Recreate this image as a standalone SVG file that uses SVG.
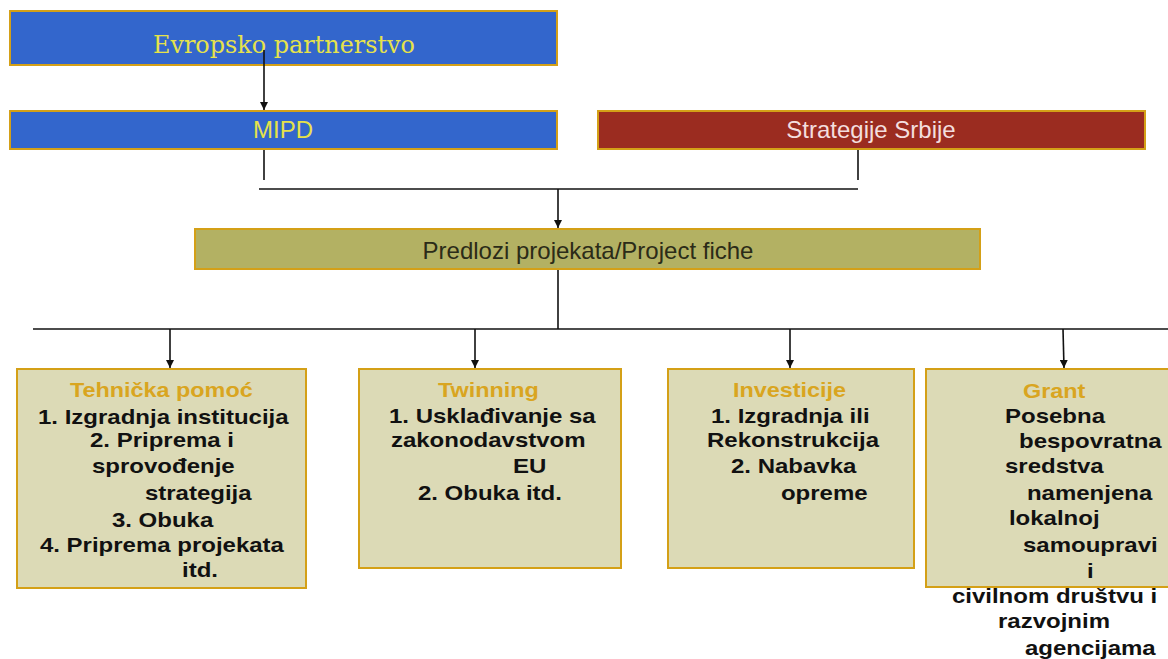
<svg xmlns="http://www.w3.org/2000/svg" width="1168" height="659" viewBox="0 0 1168 659">
<style>
.blue{fill:#3366cc;stroke:#d4a017;stroke-width:2}
.red{fill:#9b2c20;stroke:#d4a017;stroke-width:2}
.olive{fill:#b3b163;stroke:#d4a017;stroke-width:2}
.light{fill:#dcdab6;stroke:#d4a017;stroke-width:2}
.lbl{font-family:"Liberation Sans",Arial,sans-serif;font-size:24px;text-anchor:middle}
.body{font-family:"Liberation Sans",Arial,sans-serif;font-size:20px;font-weight:bold;fill:#111}
.ttl{fill:#d9a520;font-size:19.5px}
.conn{stroke:#111;stroke-width:1.6;fill:none}
</style>
<defs>
<marker id="ah" viewBox="0 0 10 10" refX="10" refY="5" markerWidth="5" markerHeight="5" orient="auto" markerUnits="strokeWidth">
<path d="M0,0 L10,5 L0,10 z" fill="#111"/>
</marker>
</defs>
<g id="evropsko">
<rect class="blue" x="10" y="11" width="547" height="54"/>
<text x="284" y="53" font-family="'DejaVu Serif','Liberation Serif',serif" font-size="24" fill="#e6e24a" text-anchor="middle" textLength="262" lengthAdjust="spacingAndGlyphs">Evropsko partnerstvo</text>
</g>
<g id="mipd">
<rect class="blue" x="10" y="111" width="547" height="38"/>
<text class="lbl" x="283" y="138" fill="#e6e24a">MIPD</text>
</g>
<g id="strategije">
<rect class="red" x="598" y="111" width="547" height="38"/>
<text class="lbl" x="871" y="138" fill="#f3dede">Strategije Srbije</text>
</g>
<g id="predlozi">
<rect class="olive" x="195" y="229" width="785" height="40"/>
<text class="lbl" x="588" y="259" fill="#2b2b18">Predlozi projekata/Project fiche</text>
</g>
<g id="connectors">
<line class="conn" x1="264" y1="50" x2="264" y2="110" marker-end="url(#ah)"/>
<line class="conn" x1="264" y1="150" x2="264" y2="180"/>
<line class="conn" x1="858" y1="150" x2="858" y2="180"/>
<line class="conn" x1="259" y1="189" x2="858" y2="189"/>
<line class="conn" x1="558" y1="189" x2="558" y2="228" marker-end="url(#ah)"/>
<line class="conn" x1="558" y1="270" x2="558" y2="329"/>
<line class="conn" x1="33" y1="329" x2="1168" y2="329"/>
<line class="conn" x1="170" y1="329" x2="170" y2="368" marker-end="url(#ah)"/>
<line class="conn" x1="475" y1="329" x2="475" y2="368" marker-end="url(#ah)"/>
<line class="conn" x1="790" y1="329" x2="790" y2="368" marker-end="url(#ah)"/>
<line class="conn" x1="1063" y1="329" x2="1064" y2="368" marker-end="url(#ah)"/>
</g>
<g id="tehnicka">
<rect class="light" x="17" y="369" width="289" height="219"/>
<g class="body" transform="scale(1.2,1)">
<text class="ttl" x="58.3" y="397">Tehnička pomoć</text>
<text x="31.7" y="424">1. Izgradnja institucija</text>
<text x="75" y="447">2. Priprema i</text>
<text x="76.7" y="473">sprovođenje</text>
<text x="120.8" y="500">strategija</text>
<text x="93.3" y="527">3. Obuka</text>
<text x="33.3" y="552">4. Priprema projekata</text>
<text x="151.7" y="577">itd.</text>
</g>
</g>
<g id="twinning">
<rect class="light" x="359" y="369" width="262" height="199"/>
<g class="body" transform="scale(1.2,1)">
<text class="ttl" x="365" y="397">Twinning</text>
<text x="324.2" y="423">1. Usklađivanje sa</text>
<text x="325.8" y="447">zakonodavstvom</text>
<text x="427.5" y="473">EU</text>
<text x="348.3" y="500">2. Obuka itd.</text>
</g>
</g>
<g id="investicije">
<rect class="light" x="668" y="369" width="246" height="199"/>
<g class="body" transform="scale(1.2,1)">
<text class="ttl" x="610.8" y="397">Investicije</text>
<text x="592.5" y="423">1. Izgradnja ili</text>
<text x="589.2" y="447">Rekonstrukcija</text>
<text x="609.2" y="473">2. Nabavka</text>
<text x="650.8" y="500">opreme</text>
</g>
</g>
<g id="grant">
<rect class="light" x="926" y="369" width="250" height="218"/>
<g class="body" transform="scale(1.2,1)">
<text class="ttl" x="852.5" y="398">Grant</text>
<text x="837.5" y="423">Posebna</text>
<text x="849.2" y="448">bespovratna</text>
<text x="837.5" y="473">sredstva</text>
<text x="855.8" y="500">namenjena</text>
<text x="840.8" y="525">lokalnoj</text>
<text x="852.5" y="552">samoupravi</text>
<text x="905.8" y="578">i</text>
<text x="793.3" y="603">civilnom društvu i</text>
<text x="831.7" y="628">razvojnim</text>
<text x="854.2" y="655">agencijama</text>
</g>
</g>
</svg>
